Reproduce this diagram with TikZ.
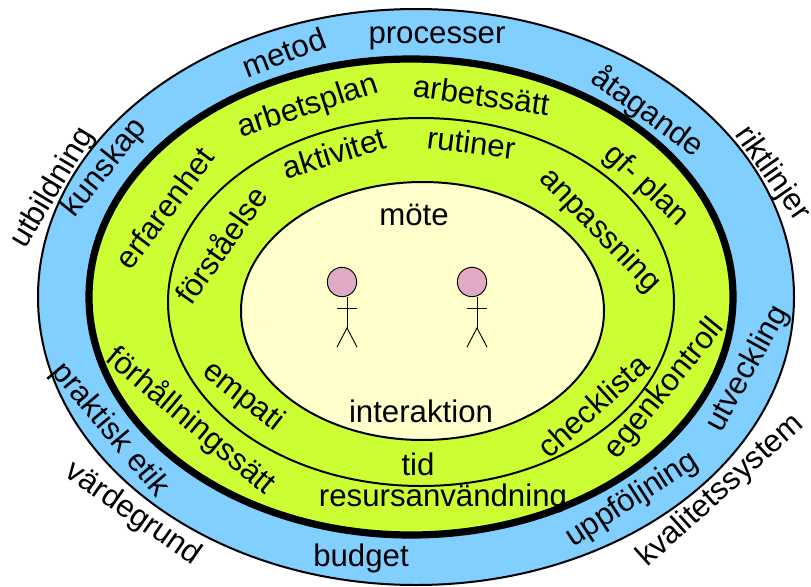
\documentclass[tikz,border=0pt]{standalone}
\usepackage{fontspec}
\setmainfont{Liberation Sans}
\definecolor{skyring}{HTML}{80CFFF}
\definecolor{limering}{HTML}{CCFF33}
\definecolor{creamcore}{HTML}{FFFFCC}
\definecolor{headpink}{HTML}{E2A9C4}
\tikzset{
  word/.style={font=\fontsize{23.4}{24}\selectfont, inner sep=0pt, text height=17pt, text depth=5pt},
  ring/.style={draw=black, line width=1.5pt},
  limb/.style={draw=black, line width=0.7pt},
  head/.style={circle, draw=black, fill=headpink, line width=0.7pt, minimum size=22pt, inner sep=0pt}
}
\begin{document}
\begin{tikzpicture}[x=0.75pt, y=-0.75pt]
   \useasboundingbox (0,0) rectangle (811,586);

   % rings
   \draw[ring, fill=skyring] (416,297) ellipse [x radius=378, y radius=288];
   \draw[ring, fill=limering, line width=5.4pt] (411,297) ellipse [x radius=322, y radius=238];
   \draw[ring] (421,302) ellipse [x radius=253, y radius=184];
   \draw[ring, fill=creamcore] (422.5,311) ellipse [x radius=181.5, y radius=129];

   % figures
   \foreach \name/\hx/\sx in {left/342/347, right/472/477} {
     \node[head] (head\name) at (\hx,282) {};
     \coordinate (neck\name) at (\sx,297);
     \coordinate (hip\name) at (\sx,328);
     \draw[limb] (neck\name) -- (hip\name);
     \draw[limb] (\sx-10,308) -- (\sx+10,308);
     \draw[limb] (\sx-10,347) -- (hip\name) -- (\sx+10,347);
   }

   % outer ring
   \node[word, rotate=59] (utbildning) at (53,188) {utbildning};
   \node[word, rotate=51] (kunskap) at (105,168) {kunskap};
   \node[word, rotate=21] (metod) at (285,55) {metod};
   \node[word] (processer) at (437,35) {processer};
   \node[word, rotate=-36] (atagande) at (647,113) {åtagande};
   \node[word, rotate=-55] (riktlinjer) at (772,174) {riktlinjer};
   \node[word, rotate=61] (utveckling) at (748,369) {utveckling};
   \node[word, rotate=42] (kvalitetssystem) at (721,491) {kvalitetssystem};
   \node[word, rotate=33] (uppfoljning) at (632,500) {uppföljning};
   \node[word] (budget) at (361,558) {budget};
   \node[word, rotate=-35] (vardegrund) at (133,514) {värdegrund};
   \node[word, rotate=-50] (praktisk) at (110,430) {praktisk etik};

   % middle ring
   \node[word, rotate=53] (erfarenhet) at (167,210) {erfarenhet};
   \node[word, rotate=18] (arbetsplan) at (308,107) {arbetsplan};
   \node[word, rotate=-8] (arbetssatt) at (481,98) {arbetssätt};
   \node[word, rotate=-43] (gfplan) at (646,186) {gf- plan};
   \node[word, rotate=51] (egenkontroll) at (665,389) {egenkontroll};
   \node[word] (resurs) at (443,498) {resursanvändning};
   \node[word, rotate=-40] (forhallning) at (190,422) {förhållningssätt};

   % inner ring
   \node[word, rotate=55] (forstaelse) at (224,247) {förståelse};
   \node[word, rotate=17] (aktivitet) at (335,156) {aktivitet};
   \node[word, rotate=-7] (rutiner) at (471,146) {rutiner};
   \node[word, rotate=-46] (anpassning) at (600,231) {anpassning};
   \node[word, rotate=42] (checklista) at (595,408) {checklista};
   \node[word] (tid) at (418,467) {tid};
   \node[word, rotate=-38] (empati) at (243,397) {empati};

   % core
   \node[word] (mote) at (414,217) {möte};
   \node[word] (interaktion) at (421,414) {interaktion};
\end{tikzpicture}
\end{document}
